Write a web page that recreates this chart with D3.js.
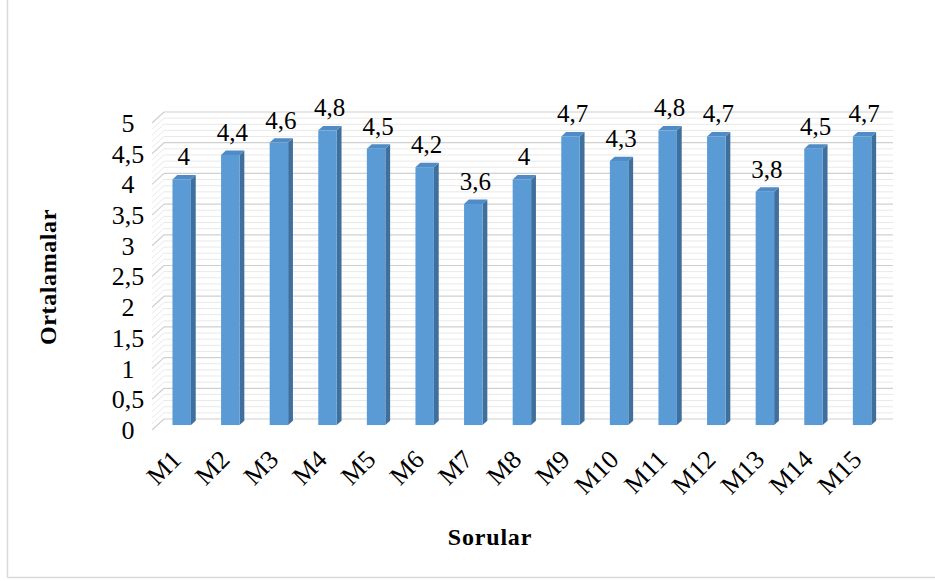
<!DOCTYPE html>
<html>
<head>
<meta charset="utf-8">
<script src="https://cdn.jsdelivr.net/npm/d3@7"></script>
<style>
  html, body { margin: 0; padding: 0; background: #fff; }
  svg { display: block; }
  text { font-family: "Liberation Serif", "Times New Roman", serif; fill: #000; }
</style>
</head>
<body>
<svg id="chart" width="935" height="581"></svg>
<script>
const categories = ["M1","M2","M3","M4","M5","M6","M7","M8","M9","M10","M11","M12","M13","M14","M15"];
const values = [4, 4.4, 4.6, 4.8, 4.5, 4.2, 3.6, 4, 4.7, 4.3, 4.8, 4.7, 3.8, 4.5, 4.7];
const yTicks = [0, 0.5, 1, 1.5, 2, 2.5, 3, 3.5, 4, 4.5, 5];
const xTitle = "Sorular";
const yTitle = "Ortalamalar";

const svg = d3.select("#chart");
const fmt = v => String(v).replace(".", ",");

// 3D projection: depth d in [0,1] shifts right/up
const DX = 12, DY = -11;
const y = d3.scaleLinear().domain([0, 5]).range([430, 123]);
const wallLeft = 152, wallRight = 893 - DX;
const x = d3.scaleBand().domain(categories).range([wallLeft, wallRight]).paddingInner(0.62).paddingOuter(0.31);
const px = (xx, d) => xx + d * DX;
const py = (v, d) => y(v) + d * DY;

// outer border
svg.append("line").attr("x1", 7.5).attr("x2", 7.5).attr("y1", 0).attr("y2", 577.5)
  .attr("stroke", "#d9d9d9").attr("stroke-width", 1.5);
svg.append("line").attr("x1", 7.5).attr("x2", 935).attr("y1", 577.5).attr("y2", 577.5)
  .attr("stroke", "#d9d9d9").attr("stroke-width", 1.5);

// gridlines (minor every 0.1, major every 0.5)
const minor = d3.range(0, 50.5, 1).map(i => i / 10);
const grid = svg.append("g");
minor.forEach(v => {
  const major = Math.abs(v * 2 - Math.round(v * 2)) < 1e-6;
  const col = major ? "#d0d0d0" : "#e9e9e9";
  const w = major ? 1.2 : 1;
  grid.append("line")
    .attr("x1", px(wallLeft, 1)).attr("x2", px(wallRight, 1))
    .attr("y1", py(v, 1)).attr("y2", py(v, 1))
    .attr("stroke", col).attr("stroke-width", w);
  grid.append("line")
    .attr("x1", px(wallLeft, 0)).attr("x2", px(wallLeft, 1))
    .attr("y1", py(v, 0)).attr("y2", py(v, 1))
    .attr("stroke", col).attr("stroke-width", w);
});

// bars
const D0 = 0.45, D1 = 0.85;
const bw = x.bandwidth();
const bars = svg.append("g");
categories.forEach((c, i) => {
  const v = values[i];
  const x0 = px(x(c), D0), x1 = x0 + bw;
  const yt = py(v, D0), yb = py(0, D0);
  const ddx = (D1 - D0) * DX, ddy = (D1 - D0) * DY;
  bars.append("path")
    .attr("d", `M${x1},${yt} L${x1 + ddx},${yt + ddy} L${x1 + ddx},${yb + ddy} L${x1},${yb} Z`)
    .attr("fill", "#3f6f9c");
  bars.append("path")
    .attr("d", `M${x0},${yt} L${x0 + ddx},${yt + ddy} L${x1 + ddx},${yt + ddy} L${x1},${yt} Z`)
    .attr("fill", "#4f8bc4");
  bars.append("rect")
    .attr("x", x0).attr("y", yt).attr("width", bw).attr("height", yb - yt)
    .attr("fill", "#5b9bd5");
  svg.append("text")
    .attr("x", x0 + bw / 2 + 2).attr("y", yt - 14)
    .attr("text-anchor", "middle")
    .attr("font-size", 25)
    .text(fmt(v));
});

// y tick labels
svg.append("g").selectAll("text").data(yTicks).join("text")
  .attr("x", 128).attr("y", d => y(d) + 3)
  .attr("text-anchor", "middle").attr("dominant-baseline", "middle")
  .attr("font-size", 26)
  .text(d => fmt(d));

// x tick labels
svg.append("g").selectAll("text").data(categories).join("text")
  .attr("transform", d => `translate(${px(x(d), D0) + bw / 2 + 1},${461}) rotate(-45)`)
  .attr("text-anchor", "end")
  .attr("font-size", 26)
  .text(d => d);

// axis titles
svg.append("text")
  .attr("x", 490).attr("y", 545)
  .attr("text-anchor", "middle").attr("font-weight", "bold")
  .attr("font-size", 24).attr("letter-spacing", 0.8)
  .text(xTitle);
svg.append("text")
  .attr("transform", "translate(56,277) rotate(-90)")
  .attr("text-anchor", "middle").attr("font-weight", "bold")
  .attr("font-size", 24).attr("letter-spacing", 0.6)
  .text(yTitle);
</script>
</body>
</html>
